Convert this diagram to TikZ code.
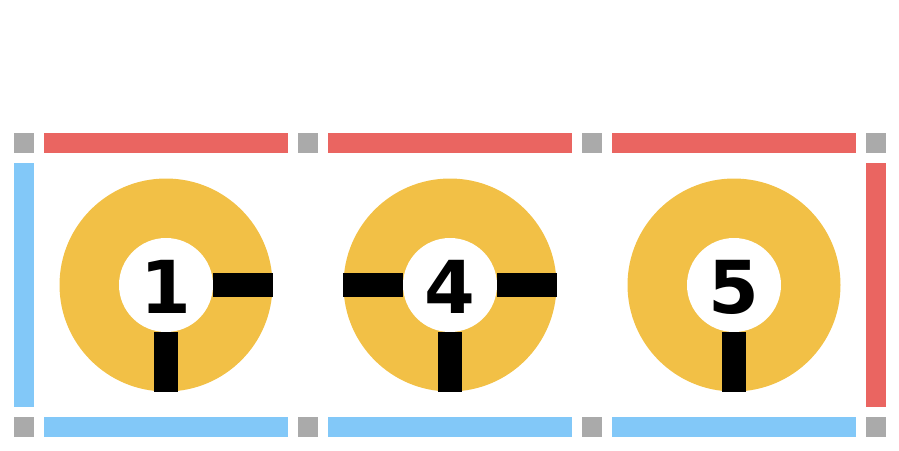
\documentclass[tikz,border=0pt]{standalone}
\usepackage{fontspec}
\setmainfont{DejaVu Sans}
\definecolor{barred}{RGB}{234,101,97}
\definecolor{barblue}{RGB}{130,200,248}
\definecolor{sqgray}{RGB}{170,170,170}
\definecolor{ringyellow}{RGB}{242,192,70}
\begin{document}
\begin{tikzpicture}[x=1pt,y=-1pt,
  sq/.style={fill=sqgray},
  redbar/.style={fill=barred},
  bluebar/.style={fill=barblue},
  ring/.style={circle,fill=ringyellow,minimum size=213pt,inner sep=0pt},
  hole/.style={circle,fill=white,minimum size=94pt,inner sep=0pt},
  spoke/.style={line width=24pt,line cap=butt,black},
  num/.style={anchor=base,font=\fontsize{73}{73}\selectfont\bfseries,inner sep=0pt}]
\useasboundingbox (0,0) rectangle (899,450);
% gray corner squares
\foreach \x in {14,298,582,866}{
  \fill[sq] (\x,133) rectangle ++(20,20);
  \fill[sq] (\x,417) rectangle ++(20,20);
}
% top red bars and bottom blue bars
\foreach \x in {44,328,612}{
  \fill[redbar] (\x,133) rectangle ++(244,20);
  \fill[bluebar] (\x,417) rectangle ++(244,20);
}
% side bars
\fill[bluebar] (14,163) rectangle (34,407);
\fill[redbar] (866,163) rectangle (886,407);
% rings
\node[ring] (c1) at (166,285) {};
\node[ring] (c2) at (450,285) {};
\node[ring] (c3) at (734,285) {};
\node[hole] (i1) at (166,285) {};
\node[hole] (i2) at (450,285) {};
\node[hole] (i3) at (734,285) {};
% spokes
\draw[spoke] (i1.east) -- (c1.east);
\draw[spoke] (i1.south) -- (c1.south);
\draw[spoke] (i2.east) -- (c2.east);
\draw[spoke] (i2.west) -- (c2.west);
\draw[spoke] (i2.south) -- (c2.south);
\draw[spoke] (i3.south) -- (c3.south);
% numbers
\node[num] (n1) at (166,313) {1};
\node[num] (n2) at (450,313) {4};
\node[num] (n3) at (734,313) {5};
\end{tikzpicture}
\end{document}
